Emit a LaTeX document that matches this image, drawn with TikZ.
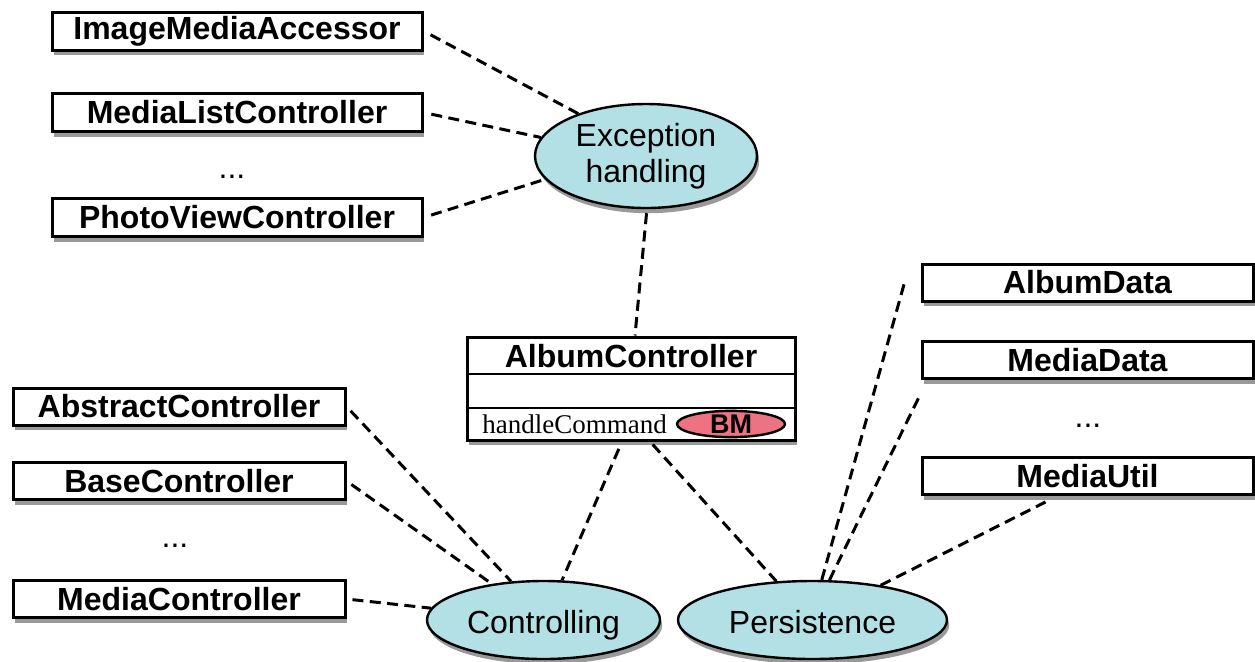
\documentclass[tikz,border=0pt]{standalone}
\usepackage{fontspec}
\setmainfont{Liberation Serif}
\setsansfont{Liberation Sans}
\usetikzlibrary{shapes.geometric,shadows,calc}
\definecolor{aspectfill}{HTML}{B2E0E4}
\definecolor{bmfill}{HTML}{EE7382}
\tikzset{
  softshadow/.style={drop shadow={shadow xshift=1.1pt, shadow yshift=-2.6pt, fill=black!40, opacity=1}},
  cls/.style={draw=black, line width=1.5pt, fill=white, rectangle, inner sep=0pt,
    font=\sffamily\bfseries\fontsize{16}{19}\selectfont, softshadow},
  clsA/.style={cls, minimum width=185pt, minimum height=19pt},
  clsB/.style={cls, minimum width=166pt, minimum height=18.5pt},
  clsC/.style={cls, minimum width=165.5pt, minimum height=18.5pt},
  aspect/.style={ellipse, draw=black, line width=1.2pt, fill=aspectfill, inner sep=0pt,
    align=center, font=\sffamily\fontsize{16}{18}\selectfont, softshadow},
  oneline/.style={text height=15pt, text depth=2pt},
  ellipsis/.style={inner sep=0pt, font=\sffamily\fontsize{16}{19}\selectfont},
  link/.style={line width=1.5pt, dash pattern=on 5.5pt off 3.2pt},
}
\begin{document}
\begin{tikzpicture}[x=0.5pt, y=-0.5pt]
\useasboundingbox (0,0) rectangle (1255,661);

% classes that handle exceptions
\node[clsA] (ima) at (237,31)    {ImageMediaAccessor};
\node[clsA] (mlc) at (237,112.5) {MediaListController};
\node[ellipsis] (dotsA) at (232,177) {...};
\node[clsA] (pvc) at (237,217.5) {PhotoViewController};

% controller classes
\node[clsB] (abc) at (179,406.5) {AbstractController};
\node[clsB] (bc)  at (179,481)   {BaseController};
\node[ellipsis] (dotsB) at (175,546) {...};
\node[clsB] (mc)  at (179,599)   {MediaController};

% persistence classes
\node[clsC] (ad) at (1087.5,282.5) {AlbumData};
\node[clsC] (md) at (1087.5,360)   {MediaData};
\node[ellipsis] (dotsC) at (1088,426) {...};
\node[clsC] (mu) at (1087.5,476)   {MediaUtil};

% concerns
\node[aspect, minimum width=111pt, minimum height=52pt] (exc) at (646,156) {Exception\\handling};
\node[aspect, oneline, minimum width=116.5pt, minimum height=39pt] (ctl) at (543.5,620) {Controlling};
\node[aspect, oneline, minimum width=134.5pt, minimum height=39pt] (per) at (812.5,620) {Persistence};

% the AlbumController class with its three compartments
\node[cls, minimum width=164pt, minimum height=51.5pt] (ac) at (631,388.5) {};
\coordinate (rowA) at (0,374);
\coordinate (rowB) at (0,408);
\draw[line width=1.2pt] (ac.west |- rowA) -- (ac.east |- rowA);
\draw[line width=1.2pt] (ac.west |- rowB) -- (ac.east |- rowB);
\node[inner sep=0pt, font=\sffamily\bfseries\fontsize{16}{19}\selectfont] (actitle) at (631,356) {AlbumController};
\node[inner sep=0pt, anchor=west, font=\fontsize{13.5}{16}\selectfont] (hc) at (482,424) {handleCommand};
\node[ellipse, draw=black, line width=1.2pt, fill=bmfill, inner sep=0pt,
      minimum width=54pt, minimum height=12pt,
      font=\sffamily\bfseries\fontsize{13.5}{15}\selectfont] (bm) at (731,424) {BM};

% free ends of the persistence links
\coordinate (adEnd) at ([xshift=-7.5pt,yshift=1.75pt]ad.west);
\coordinate (mdEnd) at ([yshift=-7pt]md.south west);
\coordinate (muEnd) at ([xshift=-21pt,yshift=-3pt]mu.south);

% crosscutting links
\draw[link, shorten <=4pt] (ima.east) -- (exc.148);
\draw[link, shorten <=4pt] (mlc.east) -- (exc.170);
\draw[link, shorten <=4pt] (pvc.east) -- (exc.193);
\draw[link, shorten <=2pt] (exc.271) -- ([xshift=2pt]ac.north);

\draw[link, shorten <=3pt] (abc.east) -- (ctl.130);
\draw[link, shorten <=3pt] (bc.east) -- (ctl.145);
\draw[link, shorten <=3pt] (mc.east) -- (ctl.174);
\draw[link, shorten <=4pt] ([xshift=-4.5pt]ac.south) -- (ctl.65);

\draw[link, shorten <=2pt] ([xshift=9.5pt]ac.south) -- (per.133.5);
\draw[link] (per.77) -- (adEnd);
\draw[link] (per.67) -- (mdEnd);
\draw[link] (per.27) -- (muEnd);
\end{tikzpicture}
\end{document}
